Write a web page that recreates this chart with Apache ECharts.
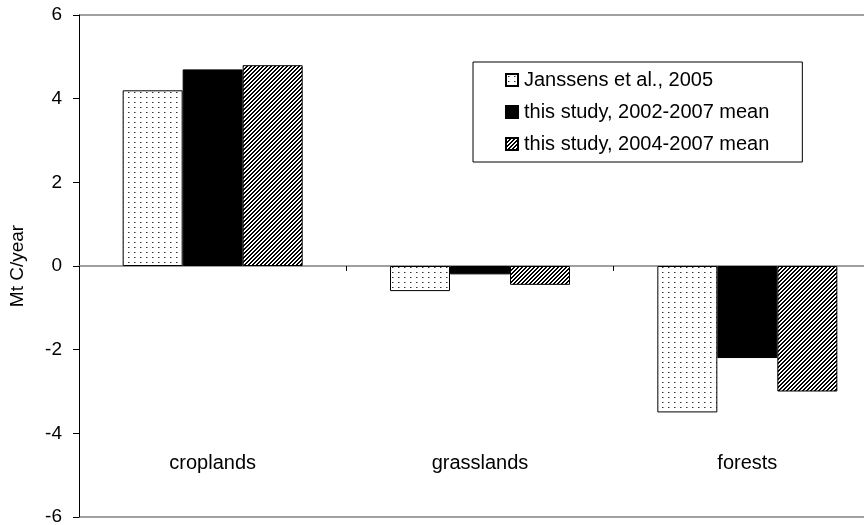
<!DOCTYPE html>
<html>
<head>
<meta charset="utf-8">
<script src="https://cdn.jsdelivr.net/npm/echarts@6/dist/echarts.min.js"></script>
<style>
  html, body { margin: 0; padding: 0; background: #fff; }
  #chart { width: 864px; height: 525px; }
</style>
</head>
<body>
<div id="chart"></div>
<script>
// Land-use categories and annual carbon flux estimates (Mt C/year)
const categories = ['croplands', 'grasslands', 'forests'];
const seriesNames = ['Janssens et al., 2005', 'this study, 2002-2007 mean', 'this study, 2004-2007 mean'];
const janssens2005 = [4.2, -0.6, -3.5];
const study2002to2007 = [4.7, -0.2, -2.2];
const study2004to2007 = [4.8, -0.45, -3.0];
const yTicks = [-6, -4, -2, 0, 2, 4, 6];

// Fill patterns: sparse dots and diagonal hatching
function dotPattern() {
  const c = document.createElement('canvas');
  c.width = 6; c.height = 5;
  const ctx = c.getContext('2d');
  ctx.fillStyle = '#ffffff';
  ctx.fillRect(0, 0, 6, 5);
  ctx.fillStyle = '#333333';
  ctx.fillRect(2, 2, 1, 1);
  ctx.fillStyle = '#999999';
  ctx.fillRect(3, 2, 1, 1);
  return c;
}
function hatchPattern() {
  const c = document.createElement('canvas');
  c.width = 4; c.height = 4;
  const ctx = c.getContext('2d');
  ctx.fillStyle = '#ffffff';
  ctx.fillRect(0, 0, 4, 4);
  ctx.fillStyle = '#000000';
  for (let x = 0; x < 4; x++) {
    for (let y = 0; y < 4; y++) {
      const d = (x + y) % 4;
      if (d === 0 || d === 1) ctx.fillRect(x, y, 1, 1);
    }
  }
  return c;
}

const fills = [
  { image: dotPattern(), repeat: 'repeat' },
  '#000000',
  { image: hatchPattern(), repeat: 'repeat' }
];
const values = [janssens2005, study2002to2007, study2004to2007];

const chart = echarts.init(document.getElementById('chart'), null, { renderer: 'canvas' });

const font = 'Liberation Sans, Arial, sans-serif';

chart.setOption({
  animation: false,
  backgroundColor: '#ffffff',
  textStyle: { fontFamily: font },
  grid: { left: 79, top: 15, right: -17, bottom: 8, show: false, containLabel: false, outerBoundsMode: 'none' },
  legend: {
    data: seriesNames,
    orient: 'vertical',
    left: 473,
    top: 62,
    itemWidth: 12,
    itemHeight: 12,
    itemGap: 12,
    icon: 'rect',
    textStyle: { fontFamily: font, fontSize: 20, color: '#000', padding: [0, 0, 0, 1] },
    padding: [8, 33, 8, 32],
    borderColor: '#000',
    borderWidth: 1,
    backgroundColor: '#fff'
  },
  xAxis: [
    {
      // zero line with category boundary ticks
      type: 'category',
      data: categories,
      axisLine: { onZero: true, lineStyle: { color: '#808080', width: 1.5 } },
      axisTick: { show: true, alignWithLabel: false, length: 5, lineStyle: { color: '#000' } },
      axisLabel: { show: false },
      splitLine: { show: false }
    },
    {
      // category names placed inside the lower plot area
      type: 'category',
      data: categories,
      position: 'bottom',
      axisLine: { show: false, onZero: false },
      axisTick: { show: false },
      axisLabel: { show: true, margin: -64, fontSize: 20, color: '#000', fontFamily: font },
      splitLine: { show: false }
    }
  ],
  yAxis: {
    type: 'value',
    min: -6,
    max: 6,
    interval: 2,
    name: 'Mt C/year',
    nameLocation: 'middle',
    nameGap: 52,
    nameRotate: 90,
    nameTextStyle: { fontSize: 19, color: '#000', fontFamily: font },
    axisLine: { show: true, lineStyle: { color: '#000', width: 1 } },
    axisTick: { show: true, length: 6, lineStyle: { color: '#000' } },
    axisLabel: {
      fontSize: 19, color: '#000', margin: 17, fontFamily: font,
      formatter: v => (yTicks.indexOf(v) >= 0 ? String(v) : '')
    },
    splitLine: { show: false }
  },
  graphic: [
    // plot-area frame lines at top and bottom
    { type: 'line', shape: { x1: 79, y1: 15, x2: 864, y2: 15 }, style: { stroke: '#808080', lineWidth: 1.5 }, z: 0 },
    { type: 'line', shape: { x1: 79, y1: 517, x2: 864, y2: 517 }, style: { stroke: '#808080', lineWidth: 1.5 }, z: 0 }
  ],
  series: seriesNames.map((name, i) => ({
    name,
    type: 'bar',
    xAxisIndex: 0,
    data: values[i],
    barWidth: 60,
    barGap: '0%',
    itemStyle: { color: fills[i], borderColor: '#000', borderWidth: 1 }
  }))
});
</script>
</body>
</html>
